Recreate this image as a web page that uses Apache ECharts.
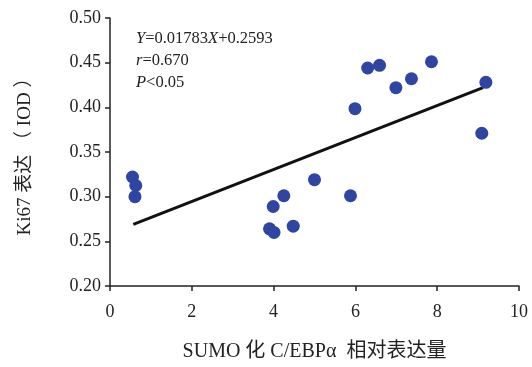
<!DOCTYPE html>
<html>
<head>
<meta charset="utf-8">
<script src="https://cdn.jsdelivr.net/npm/echarts@6/dist/echarts.min.js"></script>
<style>
  html, body { margin: 0; padding: 0; background: #fff; }
  #chart { width: 532px; height: 367px; }
</style>
</head>
<body>
<div id="chart"></div>
<script>
"use strict";
// 散点：SUMO 化 C/EBPα 相对表达量 与 Ki67 表达（IOD）
var sumoX = [0.55, 0.63, 0.61, 3.9, 4.01, 3.99, 4.25, 4.48, 5.0, 5.88, 5.99, 6.3, 6.59, 6.99, 7.37, 7.86, 9.19, 9.09];
var ki67Y = [0.322, 0.3125, 0.300, 0.264, 0.260, 0.289, 0.301, 0.267, 0.319, 0.301, 0.3985, 0.444, 0.447, 0.422, 0.432, 0.451, 0.428, 0.371];
// 回归线端点
var fitX = [0.57, 9.12];
var fitY = [0.269, 0.422];

var serif = "'Liberation Serif', 'DejaVu Serif', 'Noto Sans CJK SC', serif";

function initGraph() {
    var myChart = echarts.init(document.getElementById('chart'));
    var points = sumoX.map(function (x, i) { return [x, ki67Y[i]]; });
    var fitLine = fitX.map(function (x, i) { return [x, fitY[i]]; });
    var option = {
        animation: false,
        grid: { left: 110, right: 13, top: 18, bottom: 77, containLabel: false },
        title: {
            left: 131, top: 23,
            text: '{i|Y}=0.01783{i|X}+0.2593\n{i|r}=0.670\n{i|P}<0.05',
            textStyle: {
                fontFamily: serif, fontSize: 16.5, fontWeight: 'normal', color: '#222', lineHeight: 22,
                rich: { i: { fontStyle: 'italic', fontFamily: serif, fontSize: 16.5, color: '#222', lineHeight: 22 } }
            }
        },
        xAxis: {
            type: 'value', min: 0, max: 10, interval: 2,
            name: 'SUMO 化 C/EBPα  相对表达量', nameLocation: 'middle', nameGap: 56,
            nameTextStyle: { fontFamily: serif, fontSize: 20, color: '#222' },
            axisLine: { lineStyle: { color: '#222', width: 1.5 } },
            axisTick: { show: true, length: 5, lineStyle: { color: '#222', width: 1.5 } },
            axisLabel: { fontFamily: serif, fontSize: 18, color: '#222', margin: 17 },
            splitLine: { show: false }
        },
        yAxis: {
            type: 'value', min: 0.2, max: 0.5, interval: 0.05,
            name: 'Ki67 表达 （ IOD ）', nameLocation: 'middle', nameGap: 75, nameRotate: 90,
            nameTextStyle: { fontFamily: serif, fontSize: 19, color: '#222' },
            axisLine: { show: true, lineStyle: { color: '#222', width: 1.5 } },
            axisTick: { show: true, length: 5, lineStyle: { color: '#222', width: 1.5 } },
            axisLabel: {
                fontFamily: serif, fontSize: 18, color: '#222', margin: 9,
                formatter: function (v) { return v.toFixed(2); }
            },
            splitLine: { show: false }
        },
        series: [
            {
                type: 'line', data: fitLine, symbol: 'none', z: 1,
                lineStyle: { color: '#111', width: 3 }
            },
            {
                type: 'scatter', data: points, symbolSize: 13, z: 2,
                itemStyle: { color: '#2f45a2', opacity: 1 }
            }
        ]
    };
    myChart.setOption(option);
    return myChart;
}

var myChart = initGraph();
window.onresize = function () {
    myChart.resize();
};
</script>
</body>
</html>
